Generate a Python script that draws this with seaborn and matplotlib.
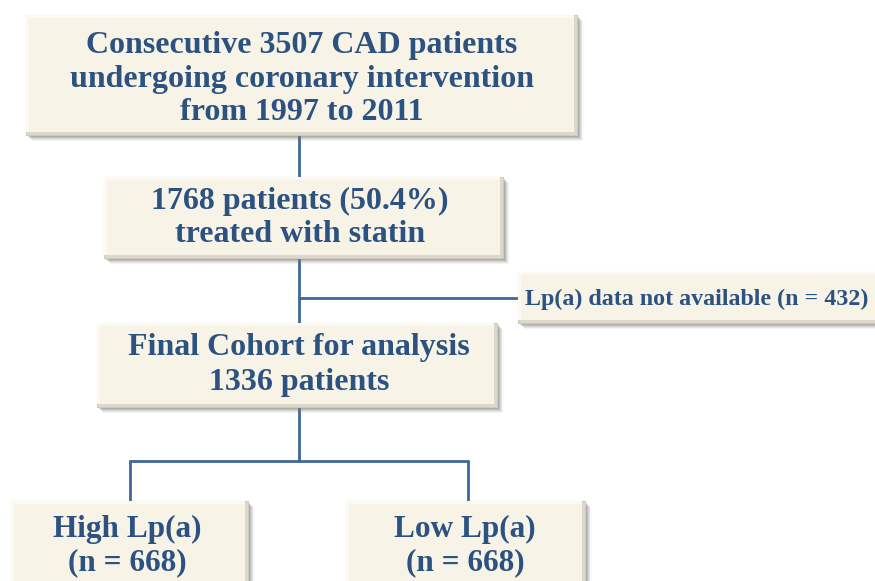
import matplotlib
matplotlib.use("Agg")
import matplotlib.pyplot as plt
import seaborn as sns
import pandas as pd
from matplotlib.patches import Rectangle

# ---- data (texts of the flowchart) ----
box_ids = ["all", "statin", "excluded", "final", "high", "low"]
box_texts = [
    "Consecutive 3507 CAD patients\nundergoing coronary intervention\nfrom 1997 to 2011",
    "1768 patients (50.4%)\ntreated with statin",
    "Lp(a) data not available (n = 432)",
    "Final Cohort for analysis\n1336 patients",
    "High Lp(a)\n(n = 668)",
    "Low Lp(a)\n(n = 668)",
]

# ---- layout (pixels, y downward) ----
box_rects = {  # x0, y0, x1, y1
    "all": (26, 15, 577, 135),
    "statin": (104, 177, 503, 258),
    "excluded": (518, 272, 890, 323),
    "final": (97, 323, 497, 407),
    "high": (11, 501, 248, 600),
    "low": (346, 501, 585, 600),
}
text_y = {"all": 79, "statin": 218, "excluded": 299, "final": 365, "high": 546, "low": 546}
text_x = {"all": 302, "statin": 300, "excluded": 697, "final": 299, "high": 127, "low": 465}
font_sizes = {"all": 23, "statin": 23, "excluded": 17.3, "final": 23, "high": 22.5, "low": 22.5}
line_sp = {"all": 1.2, "statin": 1.18, "excluded": 1.0, "final": 1.25, "high": 1.2, "low": 1.2}

connectors = pd.DataFrame({
    "seg": [0, 0, 1, 1, 2, 2, 3, 3, 4, 4, 5, 5, 6, 6],
    "x": [299, 299, 299, 299, 299, 518, 299, 299, 130, 468, 130, 130, 468, 468],
    "y": [135, 177, 258, 323, 298, 298, 407, 461, 461, 461, 461, 501, 461, 501],
})

TEXT_C = "#2c5282"
LINE_C = "#3e6898"
FILL_C = "#f7f3e6"

sns.set_theme(style="white")
plt.rcParams["font.family"] = ["Liberation Serif", "DejaVu Serif"]

fig = plt.figure(figsize=(8.75, 5.81), dpi=100)
ax = fig.add_axes([0, 0, 1, 1])
ax.set_xlim(0, 875)
ax.set_ylim(581, 0)
ax.axis("off")

for seg, d in connectors.groupby("seg"):
    sns.lineplot(data=d, x="x", y="y", sort=False, estimator=None,
                 color=LINE_C, lw=2.0, ax=ax, legend=False, zorder=1)

for bid, txt in zip(box_ids, box_texts):
    x0, y0, x1, y1 = box_rects[bid]
    w, h = x1 - x0, y1 - y0
    # soft shadow
    for k, a in [(6, 0.08), (5, 0.12), (4, 0.16), (3, 0.22), (2, 0.28)]:
        ax.add_patch(Rectangle((x0 + k, y0 + k), w, h, facecolor="#7a7a7a",
                               edgecolor="none", alpha=a, zorder=2))
    ax.add_patch(Rectangle((x0, y0), w, h, facecolor="#ddd8c9",
                           edgecolor="#cfcabd", lw=0.8, zorder=3))
    ax.add_patch(Rectangle((x0, y0), w - 3, h - 3, facecolor="#fbf9f1",
                           edgecolor="none", zorder=3.5))
    ax.add_patch(Rectangle((x0 + 3, y0 + 3), w - 6, h - 6, facecolor=FILL_C,
                           edgecolor="none", zorder=4))
    ax.text(text_x[bid], text_y[bid], txt, ha="center", va="center",
            fontsize=font_sizes[bid], fontweight="bold", color=TEXT_C,
            linespacing=line_sp[bid], zorder=5)

fig.savefig("out.png", dpi=100, facecolor="white")
